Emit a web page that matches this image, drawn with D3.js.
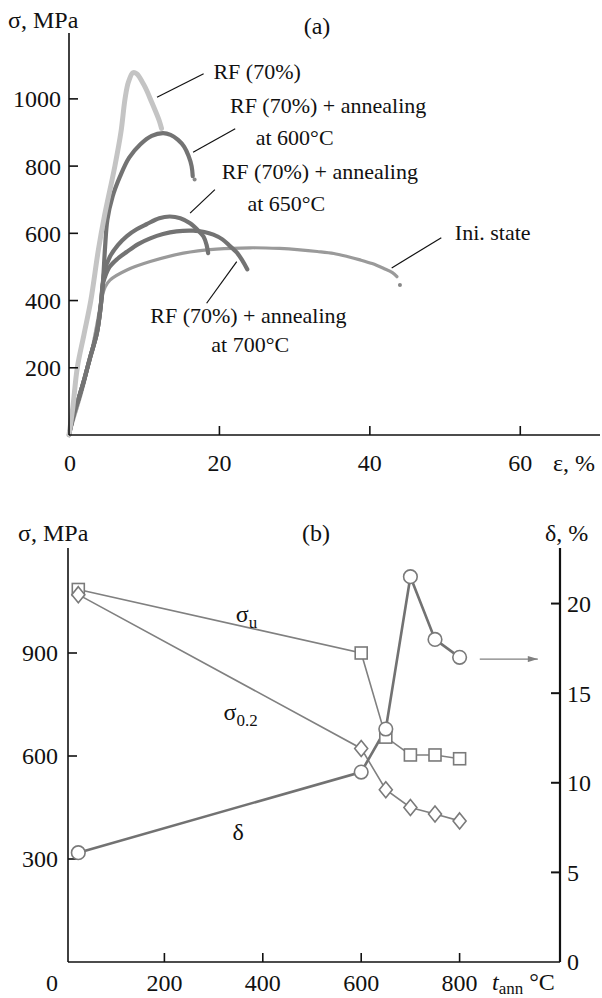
<!DOCTYPE html>
<html><head><meta charset="utf-8">
<script src="https://cdn.jsdelivr.net/npm/d3@7/dist/d3.min.js"></script>
<style>
html,body{margin:0;padding:0;background:#fff;}
svg{display:block;font-family:"Liberation Serif","Times New Roman",serif;}
</style></head>
<body><svg id="c" width="602" height="998"></svg>
<script>
// ---------- Panel (a): stress–strain curves (ε, %; σ, MPa) ----------
const rf70Eps = [0,0.5,1.1,2.0,2.9,3.9,4.7,6.1,6.9,7.45,7.9,8.5,9.0,10,11,12,12.3];
const rf70Sig = [0,80,200,300,400,550,650,800,900,1000,1050,1078,1075,1040,990,935,912];

const a600Eps = [0,0.6,1.3,1.9,2.8,3.7,4.2,4.5,4.8,5.1,5.8,6.8,8.0,9.5,11,12.5,13.5,14.5,15.3,15.9,16.3,16.45];
const a600Sig = [0,60,110,155,230,303,380,450,560,640,710,770,825,865,890,898,893,878,858,830,800,770];

const a650Eps = [0,0.6,1.3,1.9,2.8,3.7,4.2,4.5,4.7,5.45,6.5,7.7,9,10.3,12,13.4,14.8,16.1,17.2,17.9,18.3,18.5];
const a650Sig = [0,60,110,155,230,303,380,450,486,531,565,592,612,627,645,650,645,630,608,590,565,541];

const a700Eps = [0,0.6,1.3,1.9,2.8,3.7,4.2,4.5,4.7,5.4,6.5,7.7,9.2,10.8,12.5,14.3,16.5,18,19.2,20.4,21.4,22.3,23.0,23.7];
const a700Sig = [0,60,110,155,230,303,380,450,465,500,525,545,568,585,598,606,608,604,596,582,562,543,521,493];

const iniEps = [0,0.8,1.6,2.4,3.2,3.8,4.3,4.8,5.45,7.7,10.8,15.2,19.6,24.1,28,30.7,33,35.2,37,38.7,40.3,41.8,43,43.6];
const iniSig = [0,60,120,190,270,340,400,440,461,491,516,541,553,557,555,551,546,540,531,521,510,496,483,471];

const endDots = [[16.7,760],[44.0,446]]; // isolated last points
const aYTicks = [200,400,600,800,1000];
const aXTicks = [20,40,60];
const aXLabels = [0,20,40,60];

// ---------- Panel (b): properties vs annealing temperature ----------
const tAnn   = [25, 600, 650, 700, 750, 800];
const sigmaU = [1085, 900, 655, 603, 603, 592];
const sigma02= [1070, 622, 502, 450, 431, 411];
const delta  = [6.1, 10.6, 13.0, 21.5, 18.0, 17.0];
const bYTicks = [300,600,900];
const bRTicks = [0,5,10,15,20];
const bXTicks = [200,400,600,800];

const svg = d3.select("#c");

// ================= Panel (a) =================
const xa = d3.scaleLinear().domain([0,70.6]).range([69,600]);
const ya = d3.scaleLinear().domain([0,1196]).range([435,33]);
const ga = svg.append("g");

const lineA = d3.line().x(d=>xa(d[0])).y(d=>ya(d[1])).curve(d3.curveCatmullRom.alpha(0.5));
const zip = (a,b)=>a.map((v,i)=>[v,b[i]]);

const curves = [
  {e:iniEps, s:iniSig, c:"#9a9a9a", w:3.2},
  {e:a700Eps, s:a700Sig, c:"#737373", w:4.2},
  {e:a650Eps, s:a650Sig, c:"#737373", w:4.2},
  {e:a600Eps, s:a600Sig, c:"#737373", w:4.2},
  {e:rf70Eps, s:rf70Sig, c:"#c4c4c4", w:5}
];
curves.forEach(cv=>{
  ga.append("path").attr("d", lineA(zip(cv.e,cv.s)))
    .attr("fill","none").attr("stroke",cv.c).attr("stroke-width",cv.w)
    .attr("stroke-linecap","round").attr("stroke-linejoin","round");
});
ga.selectAll("circle.end").data(endDots).join("circle")
  .attr("cx",d=>xa(d[0])).attr("cy",d=>ya(d[1])).attr("r",2).attr("fill","#888");

// axes (a)
ga.append("line").attr("x1",xa(0)).attr("x2",600).attr("y1",ya(0)).attr("y2",ya(0)).attr("stroke","#111").attr("stroke-width",1.6);
ga.append("line").attr("x1",xa(0)).attr("x2",xa(0)).attr("y1",ya(0)).attr("y2",ya(1196)).attr("stroke","#111").attr("stroke-width",1.6);
ga.selectAll("line.yt").data(aYTicks).join("line")
  .attr("x1",xa(0)).attr("x2",xa(0)+9).attr("y1",d=>ya(d)).attr("y2",d=>ya(d)).attr("stroke","#111").attr("stroke-width",1.6);
ga.selectAll("text.yt").data(aYTicks).join("text")
  .attr("x",61).attr("y",d=>ya(d)).attr("dy","0.35em").attr("text-anchor","end")
  .attr("font-size",24).attr("fill","#111").text(d=>d);
ga.selectAll("line.xt").data(aXTicks).join("line")
  .attr("x1",d=>xa(d)).attr("x2",d=>xa(d)).attr("y1",ya(0)).attr("y2",ya(0)-9).attr("stroke","#111").attr("stroke-width",1.6);
ga.selectAll("text.xt").data(aXLabels).join("text")
  .attr("x",d=>xa(d)+(d===0?1:0)).attr("y",471).attr("text-anchor","middle")
  .attr("font-size",24).attr("fill","#111").text(d=>d);
ga.append("text").attr("x",553).attr("y",471).attr("font-size",24).attr("fill","#111").text("ε, %");
ga.append("text").attr("x",8).attr("y",28).attr("font-size",24).attr("fill","#111").text("σ, MPa");
ga.append("text").attr("x",317).attr("y",34).attr("text-anchor","middle").attr("font-size",24).attr("fill","#111").text("(a)");

// annotations (a) – leader lines in data units
const leaders = [
  [[11.7,1005],[17.9,1075]],
  [[16.5,841],[22.1,911]],
  [[16.1,660],[19.4,730]],
  [[18.3,392],[22.3,516]],
  [[42.9,497],[49.5,587]]
];
ga.selectAll("line.ld").data(leaders).join("line")
  .attr("x1",d=>xa(d[0][0])).attr("y1",d=>ya(d[0][1]))
  .attr("x2",d=>xa(d[1][0])).attr("y2",d=>ya(d[1][1]))
  .attr("stroke","#111").attr("stroke-width",1.2);
const notes = [
  {t:"RF (70%)", e:19.2, s:1060, a:"start"},
  {t:"RF (70%) + annealing", e:21.4, s:958, a:"start"},
  {t:"at 600°C", e:30.0, s:862, a:"middle"},
  {t:"RF (70%) + annealing", e:20.3, s:763, a:"start"},
  {t:"at 650°C", e:28.9, s:665, a:"middle"},
  {t:"Ini. state", e:51.3, s:580, a:"start"},
  {t:"RF (70%) + annealing", e:10.8, s:333, a:"start"},
  {t:"at 700°C", e:24.1, s:247, a:"middle"}
];
ga.selectAll("text.nt").data(notes).join("text")
  .attr("x",d=>xa(d.e)).attr("y",d=>ya(d.s)).attr("text-anchor",d=>d.a)
  .attr("font-size",22).attr("fill","#111").text(d=>d.t);

// ================= Panel (b) =================
const xb = d3.scaleLinear().domain([0,1000]).range([66,558]);
const yb = d3.scaleLinear().domain([0,1200]).range([962,550]);
const yr = d3.scaleLinear().domain([0,23.1]).range([962,548]);
const gb = svg.append("g");
const L = 68, R = 560, T = 548, B = 962;

gb.append("line").attr("x1",L).attr("x2",R).attr("y1",B).attr("y2",B).attr("stroke","#111").attr("stroke-width",1.6);
gb.append("line").attr("x1",L).attr("x2",L).attr("y1",B).attr("y2",T).attr("stroke","#111").attr("stroke-width",1.6);
gb.append("line").attr("x1",R).attr("x2",R).attr("y1",B).attr("y2",T).attr("stroke","#111").attr("stroke-width",2.2);
gb.selectAll("line.lt").data(bYTicks).join("line")
  .attr("x1",L).attr("x2",L+9).attr("y1",d=>yb(d)).attr("y2",d=>yb(d)).attr("stroke","#111").attr("stroke-width",1.6);
gb.selectAll("text.lt").data(bYTicks).join("text")
  .attr("x",58).attr("y",d=>yb(d)).attr("dy","0.35em").attr("text-anchor","end")
  .attr("font-size",24).attr("fill","#111").text(d=>d);
gb.selectAll("line.rt").data(bRTicks.filter(d=>d>0)).join("line")
  .attr("x1",R).attr("x2",R-9).attr("y1",d=>yr(d)).attr("y2",d=>yr(d)).attr("stroke","#111").attr("stroke-width",2);
gb.selectAll("text.rt").data(bRTicks).join("text")
  .attr("x",567).attr("y",d=>yr(d)).attr("dy","0.35em").attr("text-anchor","start")
  .attr("font-size",24).attr("fill","#111").text(d=>d);
gb.selectAll("line.bt").data(bXTicks).join("line")
  .attr("x1",d=>xb(d)).attr("x2",d=>xb(d)).attr("y1",B).attr("y2",B-9).attr("stroke","#111").attr("stroke-width",1.6);
gb.selectAll("text.bt").data(bXTicks).join("text")
  .attr("x",d=>xb(d)).attr("y",991).attr("text-anchor","middle")
  .attr("font-size",24).attr("fill","#111").text(d=>d);
gb.append("text").attr("x",52).attr("y",991).attr("text-anchor","middle").attr("font-size",24).attr("fill","#111").text("0");
const tl = gb.append("text").attr("x",492).attr("y",990).attr("font-size",24).attr("fill","#111");
tl.append("tspan").attr("font-style","italic").text("t");
tl.append("tspan").attr("font-size",17).attr("dy",4).text("ann");
tl.append("tspan").attr("dy",-4).text(" °C");
gb.append("text").attr("x",18).attr("y",541).attr("font-size",24).attr("fill","#111").text("σ, MPa");
gb.append("text").attr("x",316).attr("y",541).attr("text-anchor","middle").attr("font-size",24).attr("fill","#111").text("(b)");
gb.append("text").attr("x",545).attr("y",541).attr("font-size",24).attr("fill","#111").text("δ, %");

const lineU = d3.line().x((d,i)=>xb(tAnn[i])).y(d=>yb(d));
const lineD = d3.line().x((d,i)=>xb(tAnn[i])).y(d=>yr(d));
gb.append("path").attr("d",lineU(sigmaU)).attr("fill","none").attr("stroke","#808080").attr("stroke-width",1.6);
gb.append("path").attr("d",lineU(sigma02)).attr("fill","none").attr("stroke","#808080").attr("stroke-width",1.6);
gb.append("path").attr("d",lineD(delta)).attr("fill","none").attr("stroke","#727272").attr("stroke-width",2.6);

const MS = "#7a7a7a";
gb.selectAll("rect.u").data(sigmaU).join("rect")
  .attr("x",(d,i)=>xb(tAnn[i])-6).attr("y",d=>yb(d)-6).attr("width",12).attr("height",12)
  .attr("fill","#fff").attr("stroke",MS).attr("stroke-width",1.6);
gb.selectAll("path.dm").data(sigma02).join("path")
  .attr("d",(d,i)=>{const x=xb(tAnn[i]), y=yb(d); return `M${x},${y-8}L${x+6.5},${y}L${x},${y+8}L${x-6.5},${y}Z`;})
  .attr("fill","#fff").attr("stroke",MS).attr("stroke-width",1.6);
gb.selectAll("circle.dl").data(delta).join("circle")
  .attr("cx",(d,i)=>xb(tAnn[i])).attr("cy",d=>yr(d)).attr("r",6.8)
  .attr("fill","#fff").attr("stroke",MS).attr("stroke-width",1.6);

// labels (b)
const su = gb.append("text").attr("x",xb(345)).attr("y",yb(990)).attr("font-size",24).attr("fill","#111");
su.append("tspan").text("σ");
su.append("tspan").attr("font-size",17).attr("dy",6).text("u");
const s02 = gb.append("text").attr("x",xb(320)).attr("y",yb(705)).attr("font-size",24).attr("fill","#111");
s02.append("tspan").text("σ");
s02.append("tspan").attr("font-size",17).attr("dy",6).text("0.2");
gb.append("text").attr("x",xb(350)).attr("y",yr(6.8)).attr("text-anchor","middle").attr("font-size",24).attr("fill","#111").text("δ");

// arrow pointing to right axis
svg.append("defs").append("marker").attr("id","ah").attr("viewBox","0 0 10 6").attr("refX",10).attr("refY",3)
  .attr("markerWidth",14).attr("markerHeight",6).attr("markerUnits","userSpaceOnUse").attr("orient","auto")
  .append("path").attr("d","M0,0L10,3L0,6Z").attr("fill","#808080");
gb.append("line").attr("x1",xb(841)).attr("x2",xb(959)).attr("y1",yr(16.9)).attr("y2",yr(16.9))
  .attr("stroke","#808080").attr("stroke-width",1.4).attr("marker-end","url(#ah)");
</script></body></html>
